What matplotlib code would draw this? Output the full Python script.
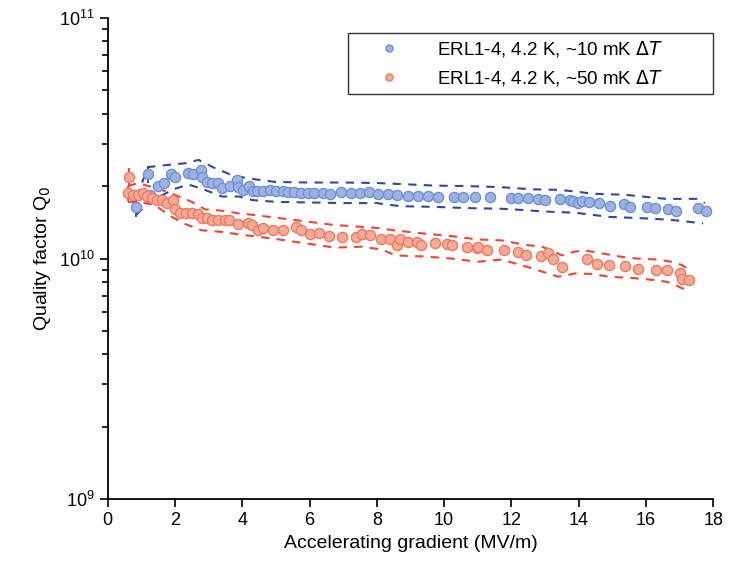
import numpy as np
import matplotlib
matplotlib.use("Agg")
from matplotlib import pyplot as plt

plt.rcParams['font.family'] = ['Liberation Sans', 'DejaVu Sans']

# ERL1-4, 4.2 K, ~10 mK dT  (Q0 in units of 1e10)
blue_x = [0.85, 1.20, 1.25, 1.50, 1.68, 1.87, 1.99, 2.39, 2.54, 2.76, 2.79, 2.94,
          3.09, 3.28, 3.40, 3.63, 3.83, 3.88, 4.03, 4.20, 4.32, 4.43, 4.62, 4.82,
          4.99, 5.22, 5.37, 5.54, 5.76, 5.96, 6.14, 6.41, 6.61, 6.93, 7.23, 7.50,
          7.77, 8.04, 8.32, 8.59, 8.92, 9.22, 9.53, 9.83, 10.28, 10.57, 10.92, 11.37,
          11.99, 12.21, 12.49, 12.79, 13.01, 13.45, 13.75, 13.82, 13.98, 14.11, 14.32,
          14.61, 14.94, 15.34, 15.54, 16.03, 16.28, 16.66, 16.90, 17.54, 17.80]
blue_q = [1.64, 2.24, 1.84, 2.00, 2.07, 2.24, 2.18, 2.26, 2.24, 2.33, 2.19, 2.08,
          2.06, 2.06, 1.96, 2.00, 2.12, 1.98, 1.93, 2.00, 1.90, 1.91, 1.91, 1.92,
          1.90, 1.90, 1.89, 1.89, 1.88, 1.88, 1.87, 1.88, 1.86, 1.89, 1.88, 1.88,
          1.89, 1.85, 1.85, 1.83, 1.82, 1.82, 1.82, 1.81, 1.81, 1.80, 1.81, 1.80,
          1.78, 1.78, 1.78, 1.76, 1.75, 1.76, 1.75, 1.74, 1.70, 1.74, 1.72,
          1.70, 1.65, 1.68, 1.64, 1.64, 1.62, 1.61, 1.58, 1.62, 1.57]
blue_err = {0: 0.08, 1: 0.07}   # index -> relative error bar

blue_up_x = [0.85, 1.2, 1.8, 2.3, 2.7, 3.2, 3.7, 4.2, 5.0, 6.0, 7.0, 8.0, 8.7, 9.7,
             10.7, 11.7, 12.6, 13.4, 13.9, 14.4, 15.4, 15.9, 16.6, 17.5, 17.75]
blue_up_q = [1.80, 2.40, 2.45, 2.49, 2.57, 2.37, 2.22, 2.15, 2.08, 2.07, 2.07, 2.06,
             2.04, 2.01, 2.00, 1.98, 1.94, 1.93, 1.90, 1.86, 1.84, 1.81, 1.77, 1.77, 1.70]
blue_lo_x = [0.85, 1.2, 1.5, 2.0, 2.4, 2.8, 3.4, 3.9, 4.3, 5.0, 6.0, 7.0, 8.0, 8.7,
             9.7, 10.7, 11.7, 12.4, 12.9, 13.9, 14.9, 15.9, 16.7, 17.7]
blue_lo_q = [1.52, 1.70, 1.80, 1.95, 2.03, 1.95, 1.81, 1.81, 1.75, 1.72, 1.71, 1.70,
             1.70, 1.65, 1.64, 1.62, 1.61, 1.59, 1.57, 1.55, 1.49, 1.47, 1.45, 1.40]

# ERL1-4, 4.2 K, ~50 mK dT
red_x = [0.60, 0.63, 0.75, 0.90, 1.05, 1.18, 1.32, 1.45, 1.60, 1.75, 1.94, 2.01,
         2.14, 2.32, 2.51, 2.67, 2.79, 2.94, 3.10, 3.28, 3.50, 3.60, 3.88, 4.18,
         4.30, 4.47, 4.62, 4.92, 5.22, 5.61, 5.76, 6.01, 6.27, 6.58, 6.97, 7.38,
         7.55, 7.80, 8.13, 8.39, 8.59, 8.69, 8.94, 9.19, 9.32, 9.73, 10.08, 10.23,
         10.68, 10.97, 11.02, 11.27, 11.79, 12.21, 12.43, 12.89, 13.09, 13.25, 13.50,
         14.25, 14.54, 14.91, 15.37, 15.76, 16.30, 16.63, 17.02, 17.07, 17.27]
red_q = [1.87, 2.18, 1.84, 1.84, 1.87, 1.82, 1.78, 1.75, 1.75, 1.70, 1.75, 1.60,
         1.55, 1.55, 1.54, 1.53, 1.47, 1.47, 1.44, 1.44, 1.45, 1.44, 1.39, 1.41,
         1.38, 1.32, 1.34, 1.32, 1.32, 1.35, 1.31, 1.27, 1.28, 1.24, 1.23, 1.23,
         1.26, 1.25, 1.21, 1.20, 1.14, 1.20, 1.17, 1.17, 1.14, 1.16, 1.15, 1.14,
         1.12, 1.11, 1.12, 1.08, 1.09, 1.06, 1.03, 1.02, 1.05, 0.995, 0.925,
         0.994, 0.949, 0.940, 0.931, 0.902, 0.896, 0.896, 0.867, 0.819, 0.813]
red_err = {0: 0.06, 1: 0.08}

red_up_x = [0.6, 0.9, 1.75, 2.5, 2.9, 3.4, 3.9, 4.3, 5.3, 6.0, 6.7, 7.35, 8.0, 8.5,
            9.4, 10.2, 11.0, 11.7, 12.4, 12.9, 13.2, 13.5, 13.9, 14.2, 14.7, 15.2,
            15.7, 16.35, 16.75, 17.07, 17.27]
red_up_q = [2.00, 2.06, 1.90, 1.72, 1.60, 1.58, 1.54, 1.52, 1.46, 1.42, 1.38, 1.36,
            1.34, 1.31, 1.27, 1.24, 1.20, 1.19, 1.14, 1.12, 1.08, 1.03, 1.07, 1.08,
            1.05, 1.02, 1.00, 0.99, 0.97, 0.94, 0.896]
red_lo_x = [0.6, 0.9, 1.4, 1.8, 2.25, 2.8, 3.4, 3.9, 4.3, 5.1, 6.0, 6.75, 7.55, 8.15,
            8.55, 9.4, 10.2, 11.0, 11.7, 12.45, 13.4, 13.9, 14.4, 14.9, 15.6, 16.4,
            16.8, 17.0, 17.25]
red_lo_q = [1.72, 1.72, 1.67, 1.52, 1.40, 1.31, 1.29, 1.26, 1.24, 1.20, 1.15, 1.11,
            1.12, 1.09, 1.03, 1.02, 1.00, 0.97, 0.99, 0.925, 0.84, 0.867, 0.863, 0.84,
            0.83, 0.81, 0.79, 0.76, 0.735]

x_ticks = [0, 2, 4, 6, 8, 10, 12, 14, 16, 18]


def draw(ax, x, q, err, bands, face, edge, dash, label):
    x = np.array(x)
    q = np.array(q) * 1e10
    for bx, bq in bands:
        ax.plot(bx, np.array(bq) * 1e10, ls=(0, (4, 3.5)), lw=1.5, color=dash, zorder=2)
    for i, e in err.items():
        ax.plot([x[i], x[i]], [q[i] * (1 - e), q[i] * (1 + e)], color=dash, lw=1.4, zorder=2)
    ax.plot(x, q, lw=0, marker='o', ms=7.3, mfc=face, mec=edge, mew=1.0,
            label=label, zorder=3)


fig = plt.figure(figsize=(7.33, 5.62), dpi=100)
ax = fig.add_axes([0.147, 0.112, 0.826, 0.856])

draw(ax, blue_x, blue_q, blue_err, [(blue_up_x, blue_up_q), (blue_lo_x, blue_lo_q)],
     '#9cb3e2', '#6e90d2', '#34479a', 'ERL1-4, 4.2 K, ~10 mK $\\mathit{\\Delta T}$')
draw(ax, red_x, red_q, red_err, [(red_up_x, red_up_q), (red_lo_x, red_lo_q)],
     '#f6aa98', '#ee7a5e', '#ec4436', 'ERL1-4, 4.2 K, ~50 mK $\\mathit{\\Delta T}$')

ax.set_yscale('log')
ax.set_ylim(1e9, 1e11)
ax.set_xlim(0, 18)
ax.set_xticks(x_ticks)
ax.spines['top'].set_visible(False)
ax.spines['right'].set_visible(False)
ax.spines['left'].set_linewidth(1.3)
ax.spines['bottom'].set_linewidth(1.3)
ax.tick_params(which='both', direction='out', labelsize=13, width=1.2)
ax.tick_params(which='major', length=6)
ax.tick_params(which='minor', length=4)

ax.set_xlabel('Accelerating gradient (MV/m)', fontsize=14)
ax.set_ylabel('Quality factor Q$_0$', fontsize=14)

leg = ax.legend(loc='upper left', bbox_to_anchor=(0.397, 0.857, 0.603, 0.112),
                mode='expand', borderaxespad=0, fontsize=13.5, markerscale=0.7,
                fancybox=False, edgecolor='#333333', framealpha=1,
                handlelength=3.7, handletextpad=0.7, borderpad=0.35,
                labelspacing=0.45)
leg.get_frame().set_linewidth(1.0)

plt.savefig('out.png', dpi=100)
